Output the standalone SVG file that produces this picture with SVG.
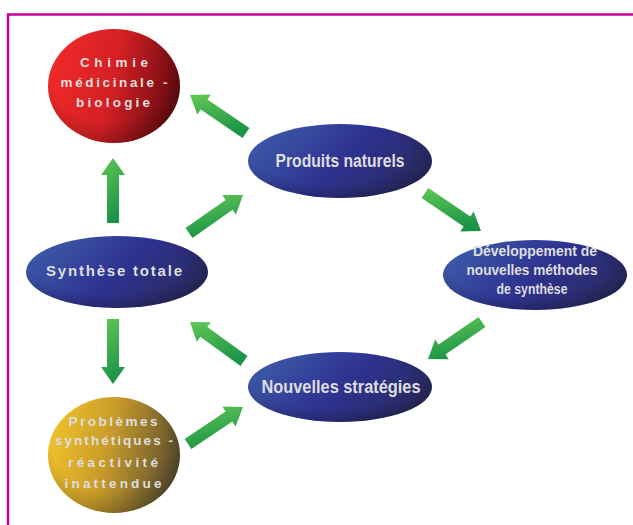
<svg xmlns="http://www.w3.org/2000/svg" width="633" height="525" viewBox="0 0 633 525">
<defs>
<linearGradient id="gRed" x1="0" y1="0.3" x2="1" y2="0.5"><stop offset="0" stop-color="#f22a28"/><stop offset="0.5" stop-color="#d42025"/><stop offset="1" stop-color="#6a0a10"/></linearGradient>
<linearGradient id="gBlue" x1="0" y1="0.3" x2="1" y2="0.7"><stop offset="0" stop-color="#3c5aa8"/><stop offset="0.5" stop-color="#2e3290"/><stop offset="1" stop-color="#2a2a5e"/></linearGradient>
<linearGradient id="gGold" x1="0" y1="0.3" x2="1" y2="0.5"><stop offset="0" stop-color="#f2c22c"/><stop offset="0.45" stop-color="#c99c2a"/><stop offset="1" stop-color="#5e5030"/></linearGradient>
<radialGradient id="gShade" cx="0.45" cy="0.4" r="0.6"><stop offset="0.7" stop-color="#000" stop-opacity="0"/><stop offset="1" stop-color="#000" stop-opacity="0.2"/></radialGradient>
<linearGradient id="gArrow" x1="0" y1="0" x2="0.3" y2="1"><stop offset="0" stop-color="#62c856"/><stop offset="1" stop-color="#1c9447"/></linearGradient>
</defs>
<style>
.arrow{fill:url(#gArrow)}
.t{font-family:"Liberation Sans",Arial,sans-serif;font-weight:bold;fill:#dedede;text-anchor:middle}
.border{fill:none;stroke:#c8009a;stroke-width:2.5}
</style>
<path class="border" d="M8,525 V14.5 H633"/>
<g id="node-chimie">
<ellipse cx="114" cy="86" rx="66" ry="57" fill="url(#gRed)"/>
<ellipse cx="114" cy="86" rx="66" ry="57" fill="url(#gShade)"/>
<text class="t" x="114" y="67" font-size="13.5" textLength="68" lengthAdjust="spacing">Chimie</text>
<text class="t" x="114" y="87" font-size="13.5" textLength="107" lengthAdjust="spacing">médicinale -</text>
<text class="t" x="113" y="107" font-size="13.5" textLength="74" lengthAdjust="spacing">biologie</text>
</g>
<g id="node-produits">
<ellipse cx="340" cy="161" rx="92" ry="37" fill="url(#gBlue)"/>
<ellipse cx="340" cy="161" rx="92" ry="37" fill="url(#gShade)"/>
<text class="t" x="340" y="167" font-size="18" textLength="129" lengthAdjust="spacingAndGlyphs">Produits naturels</text>
</g>
<g id="node-developpement">
<ellipse cx="535" cy="275" rx="92" ry="35" fill="url(#gBlue)"/>
<ellipse cx="535" cy="275" rx="92" ry="35" fill="url(#gShade)"/>
<text class="t" x="535" y="256" font-size="14.5" textLength="124" lengthAdjust="spacingAndGlyphs">Développement de</text>
<text class="t" x="532" y="275" font-size="14.5" textLength="131" lengthAdjust="spacingAndGlyphs">nouvelles méthodes</text>
<text class="t" x="532" y="294" font-size="14.5" textLength="71" lengthAdjust="spacingAndGlyphs">de synthèse</text>
</g>
<g id="node-synthese">
<ellipse cx="117" cy="272" rx="91" ry="36" fill="url(#gBlue)"/>
<ellipse cx="117" cy="272" rx="91" ry="36" fill="url(#gShade)"/>
<text class="t" x="114" y="276" font-size="15" textLength="136" lengthAdjust="spacing">Synthèse totale</text>
</g>
<g id="node-strategies">
<ellipse cx="340" cy="387" rx="92" ry="35" fill="url(#gBlue)"/>
<ellipse cx="340" cy="387" rx="92" ry="35" fill="url(#gShade)"/>
<text class="t" x="341" y="393" font-size="17.5" textLength="159" lengthAdjust="spacingAndGlyphs">Nouvelles stratégies</text>
</g>
<g id="node-problemes">
<ellipse cx="114" cy="455" rx="66" ry="58" fill="url(#gGold)"/>
<ellipse cx="114" cy="455" rx="66" ry="58" fill="url(#gShade)"/>
<text class="t" x="113" y="426" font-size="13.5" textLength="89" lengthAdjust="spacing">Problèmes</text>
<text class="t" x="114" y="445" font-size="13.5" textLength="118" lengthAdjust="spacing">synthétiques -</text>
<text class="t" x="113" y="467" font-size="13.5" textLength="90" lengthAdjust="spacing">réactivité</text>
<text class="t" x="113" y="488" font-size="13.5" textLength="97" lengthAdjust="spacing">inattendue</text>
</g>
<g id="connectors">
<polygon class="arrow" points="249.4,128 207.4,99.6 210.8,94.6 190,95 197.3,114.4 200.7,109.5 242.6,138"/>
<polygon class="arrow" points="119,223 119,175 125,175 113,158 101,175 107,175 107,223"/>
<polygon class="arrow" points="192.5,237.9 232.6,209.7 236,214.6 243,195 222.2,195 225.6,199.9 185.5,228.1"/>
<polygon class="arrow" points="421.6,198 463.6,226.4 460.2,231.4 481,231 473.7,211.6 470.3,216.5 428.4,188"/>
<polygon class="arrow" points="478.6,317.1 438.6,344.5 435.2,339.5 428,359 448.8,359.3 445.4,354.4 485.4,327"/>
<polygon class="arrow" points="247.5,356.1 207.3,327.1 210.8,322.2 190,322 196.8,341.7 200.3,336.8 240.5,365.9"/>
<polygon class="arrow" points="107,319 107,367 101,367 113,384 125,367 119,367 119,319"/>
<polygon class="arrow" points="191.4,449 232.3,421.5 235.6,426.5 243,407 222.2,406.5 225.6,411.5 184.7,439"/>
</g>
</svg>
